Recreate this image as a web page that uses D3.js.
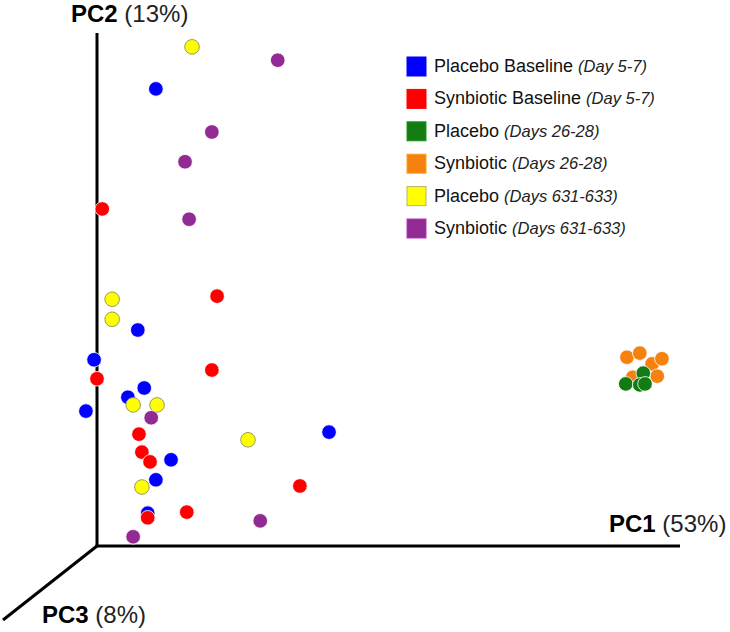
<!DOCTYPE html>
<html>
<head>
<meta charset="utf-8">
<script src="https://cdn.jsdelivr.net/npm/d3@7"></script>
<style>
  html, body { margin: 0; padding: 0; background: #fff; }
  svg { display: block; font-family: "Liberation Sans", Arial, sans-serif; }
</style>
</head>
<body>
<svg id="chart" width="730" height="632"></svg>
<script>
// ---- data (PC1, PC2 in arbitrary units) ----
const groups = ["Placebo Baseline", "Synbiotic Baseline", "Placebo", "Synbiotic", "Placebo", "Synbiotic"];
const groupNotes = ["(Day 5-7)", "(Day 5-7)", "(Days 26-28)", "(Days 26-28)", "(Days 631-633)", "(Days 631-633)"];
const groupColors = ["#0000ff", "#ff0000", "#127c12", "#f5820f", "#ffff00", "#922a94"];

const placeboBaseline = [[10.1,89.1],[7.0,42.1],[-0.5,36.3],[8.1,30.8],[5.3,29.0],[-1.9,26.3],[12.7,16.8],[10.1,12.9],[39.8,22.2],[8.7,6.4]];
const synbioticBaseline = [[0.9,65.7],[20.6,48.7],[19.7,34.3],[0.0,32.6],[7.2,21.8],[7.7,18.3],[9.1,16.4],[34.8,11.7],[15.4,6.6],[8.7,5.5]];
const placeboD26 = [[90.7,31.6],[93.7,33.7],[93.1,31.4],[94.0,31.6]];
const synbioticD26 = [[90.9,36.8],[93.1,37.6],[95.2,35.5],[96.9,36.5],[96.1,33.1],[91.9,32.9]];
const placeboD631 = [[16.3,97.3],[2.6,48.1],[2.6,44.2],[6.2,27.5],[10.3,27.5],[25.9,20.7],[7.7,11.5]];
const synbioticD631 = [[31.0,94.7],[19.7,80.7],[15.1,74.9],[15.8,63.7],[9.3,25.0],[28.0,4.9],[6.2,1.8]];

const axisLabels = [["PC1", "(53%)"], ["PC2", "(13%)"], ["PC3", "(8%)"]];

// draw order: blue, red, orange, green, yellow, purple
const drawOrder = [0, 1, 3, 2, 4, 5];
const seriesData = [placeboBaseline, synbioticBaseline, placeboD26, synbioticD26, placeboD631, synbioticD631];

// ---- layout ----
const svg = d3.select("#chart");
const x = d3.scaleLinear().domain([0, 100]).range([97, 680]);
const y = d3.scaleLinear().domain([0, 100]).range([546, 33]);

// axes (3D-like)
const axG = svg.append("g").attr("stroke", "#000").attr("stroke-width", 3).attr("fill", "none");
axG.append("line").attr("x1", x(0)).attr("y1", y(0)).attr("x2", x(0)).attr("y2", y(100));
axG.append("line").attr("x1", x(0) - 1.5).attr("y1", y(0)).attr("x2", x(100)).attr("y2", y(0));
axG.append("line").attr("x1", x(0)).attr("y1", y(0)).attr("x2", 3).attr("y2", 620);

// axis labels
function axisLabel(lbl, xPos, yPos) {
  const t = svg.append("text").attr("x", xPos).attr("y", yPos).attr("font-size", 24).attr("fill", "#000");
  t.append("tspan").attr("font-weight", "bold").text(lbl[0]);
  t.append("tspan").attr("fill", "#222").text(" " + lbl[1]);
}
axisLabel(axisLabels[0], 609, 532);
axisLabel(axisLabels[1], 71, 22);
axisLabel(axisLabels[2], 42, 623);

// points
drawOrder.forEach(gi => {
  const isYellow = gi === 4;
  svg.append("g").selectAll("circle")
    .data(seriesData[gi])
    .join("circle")
    .attr("cx", d => x(d[0]))
    .attr("cy", d => y(d[1]))
    .attr("r", 7.3)
    .attr("fill", groupColors[gi])
    .attr("stroke", isYellow ? "#9c9a5a" : "#fff")
    .attr("stroke-width", isYellow ? 1 : 0.8);
});

// legend
const legend = svg.append("g").attr("transform", "translate(407,57)");
const rows = legend.selectAll("g").data(groups).join("g")
  .attr("transform", (d, i) => `translate(0,${i * 32.4})`);
rows.append("rect").attr("width", 19).attr("height", 19)
  .attr("fill", (d, i) => groupColors[i])
  .attr("stroke", (d, i) => i === 4 ? "#b8b46a" : d3.color(groupColors[i]).brighter(0.6))
  .attr("stroke-width", 1);
const lt = rows.append("text").attr("x", 27).attr("y", 15).attr("font-size", 18).attr("fill", "#111");
lt.append("tspan").text(d => d);
lt.append("tspan").attr("font-style", "italic").attr("font-size", 16.5).attr("fill", "#222")
  .attr("dx", 5).text((d, i) => groupNotes[i]);
</script>
</body>
</html>
